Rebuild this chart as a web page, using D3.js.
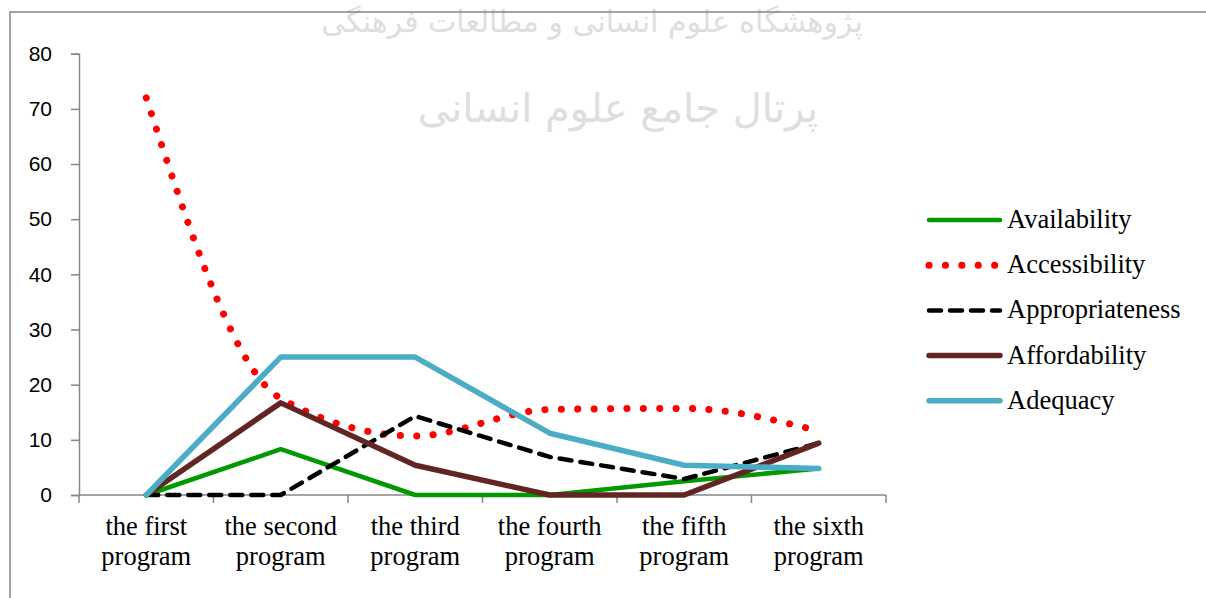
<!DOCTYPE html>
<html>
<head>
<meta charset="utf-8">
<script src="https://cdn.jsdelivr.net/npm/d3@7"></script>
<style>
  body { margin: 0; background: #fff; }
  svg { display: block; }
</style>
</head>
<body>
<svg id="chart"></svg>
<script>
// data
const programs = ['the first program', 'the second program', 'the third program',
  'the fourth program', 'the fifth program', 'the sixth program'];
const availability = [0, 8.3, 0, 0, 2.5, 4.8];
const accessibility = [72, 17.5, 10.7, 15.5, 15.7, 11.6];
const appropriateness = [0, 0, 14.3, 6.9, 2.9, 9.4];
const affordability = [0, 16.7, 5.4, 0, 0, 9.4];
const adequacy = [0, 25, 25, 11.2, 5.4, 4.8];
const yTicks = [0, 10, 20, 30, 40, 50, 60, 70, 80];

const series = [
  { name: 'Availability', values: availability, color: '#009900', width: 4.5, dash: null, smooth: false },
  { name: 'Accessibility', values: accessibility, color: '#ff0000', width: 7, dash: '0.1 16.3', smooth: true },
  { name: 'Appropriateness', values: appropriateness, color: '#000000', width: 4.5, dash: '12 9', smooth: false },
  { name: 'Affordability', values: affordability, color: '#632523', width: 5.5, dash: null, smooth: false },
  { name: 'Adequacy', values: adequacy, color: '#4bacc6', width: 5.5, dash: null, smooth: false }
];

const width = 1206, height = 598;
const plot = { left: 79, right: 886, top: 53.7, bottom: 495 };
const axisColor = '#868686';
const serif = '"Liberation Serif", "Times New Roman", serif';

const svg = d3.select('#chart')
  .attr('width', width)
  .attr('height', height);

// watermark
const wm = svg.append('g')
  .attr('fill', '#dedede')
  .attr('font-family', '"DejaVu Sans", sans-serif')
  .attr('text-anchor', 'middle');
wm.append('text')
  .attr('x', 592).attr('y', 32)
  .attr('font-size', 30)
  .text('پژوهشگاه علوم انسانی و مطالعات فرهنگی');
wm.append('text')
  .attr('x', 618).attr('y', 122)
  .attr('font-size', 40)
  .text('پرتال جامع علوم انسانی');

// chart area border (only top and left visible)
svg.append('path')
  .attr('d', 'M10,598 V12 H1206')
  .attr('fill', 'none')
  .attr('stroke', axisColor)
  .attr('stroke-width', 1.5);

const x = d3.scaleBand()
  .domain(programs)
  .range([plot.left, plot.right]);

const y = d3.scaleLinear()
  .domain([0, 80])
  .range([plot.bottom, plot.top]);

// Y axis
const yAxis = svg.append('g')
  .attr('transform', `translate(${plot.left},0)`)
  .call(d3.axisLeft(y).tickValues(yTicks).tickSize(8).tickPadding(19));
yAxis.selectAll('path, line').attr('stroke', axisColor).attr('stroke-width', 1.5);
yAxis.selectAll('text')
  .attr('fill', '#000')
  .style('font-size', '21px')
  .style('font-family', '"Liberation Sans", Arial, sans-serif');

// X axis: ticks on category boundaries
const xAxis = svg.append('g')
  .attr('transform', `translate(0,${plot.bottom})`);
xAxis.append('line')
  .attr('x1', plot.left).attr('x2', plot.right)
  .attr('stroke', axisColor).attr('stroke-width', 1.5);
const bounds = programs.map(p => x(p)).concat([plot.right]);
xAxis.selectAll('.tick')
  .data(bounds)
  .join('line')
  .attr('class', 'tick')
  .attr('x1', d => d).attr('x2', d => d)
  .attr('y1', 0).attr('y2', 8)
  .attr('stroke', axisColor).attr('stroke-width', 1.5);

const labels = xAxis.selectAll('.xlabel')
  .data(programs)
  .join('text')
  .attr('class', 'xlabel')
  .attr('text-anchor', 'middle')
  .attr('font-family', serif)
  .attr('font-size', 26.5)
  .attr('fill', '#000');
labels.each(function(d) {
  const words = d.split(' ');
  const t = d3.select(this);
  const cx = x(d) + x.bandwidth() / 2;
  t.append('tspan').attr('x', cx).attr('y', 40).text(words.slice(0, 2).join(' '));
  t.append('tspan').attr('x', cx).attr('y', 70).text(words.slice(2).join(' '));
});

// lines
const cx = (d, i) => x(programs[i]) + x.bandwidth() / 2;
series.forEach(s => {
  const line = d3.line()
    .x(cx)
    .y(d => y(d))
    .curve(s.smooth ? d3.curveMonotoneX : d3.curveLinear);
  svg.append('path')
    .datum(s.values)
    .attr('fill', 'none')
    .attr('stroke', s.color)
    .attr('stroke-width', s.width)
    .attr('stroke-linecap', 'round')
    .attr('stroke-linejoin', 'round')
    .attr('stroke-dasharray', s.dash)
    .attr('d', line);
});

// legend
const legend = svg.append('g');
const rows = legend.selectAll('g')
  .data(series)
  .join('g')
  .attr('transform', (d, i) => `translate(929,${220 + i * 45.2})`);
rows.append('line')
  .attr('x1', 0).attr('x2', 71)
  .attr('stroke', d => d.color)
  .attr('stroke-width', d => d.width)
  .attr('stroke-linecap', 'round')
  .attr('stroke-dasharray', d => d.dash);
rows.append('text')
  .attr('x', 78)
  .attr('y', 8)
  .attr('font-family', serif)
  .attr('font-size', 26.5)
  .attr('fill', '#000')
  .text(d => d.name);
</script>
</body>
</html>
